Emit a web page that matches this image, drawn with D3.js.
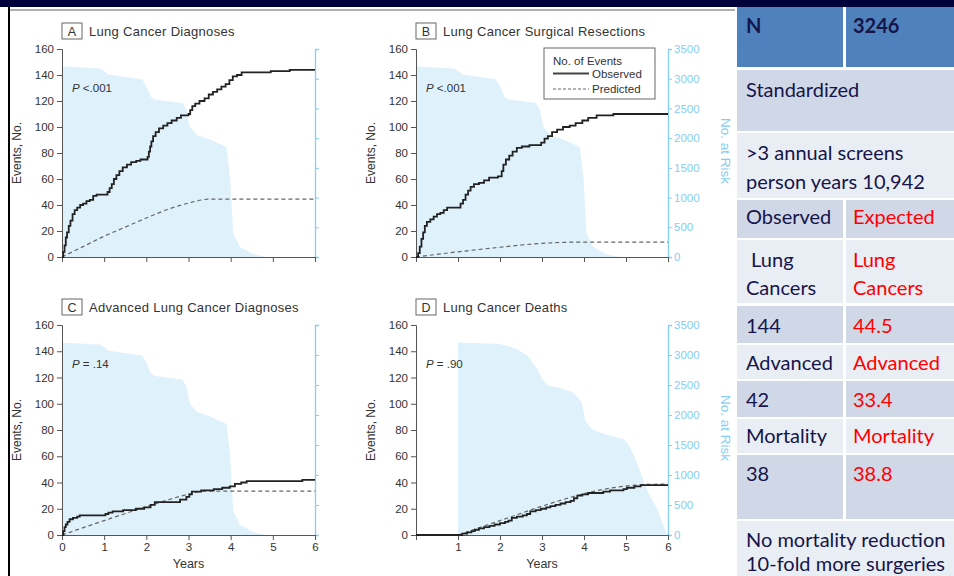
<!DOCTYPE html>
<html>
<head>
<meta charset="utf-8">
<script src="https://cdn.jsdelivr.net/npm/d3@7"></script>
<style>
  body { margin: 0; background: #fff; }
  svg { display: block; }
</style>
</head>
<body>
<svg id="chart" width="954" height="576"></svg>
<script>
// ---- data ----
var yearTicks = [0, 1, 2, 3, 4, 5, 6];
var eventTicks = [0, 20, 40, 60, 80, 100, 120, 140, 160];
var riskTicks = [0, 500, 1000, 1500, 2000, 2500, 3000, 3500];

// number at risk, [year, count]
var riskAll = [[0,3210],[0.9,3170],[1.0,3130],[1.1,3070],[1.9,2990],[2.0,2870],[2.1,2700],[2.2,2650],
  [2.85,2590],[2.95,2480],[3.03,2190],[3.2,2050],[3.5,1980],[3.9,1850],[3.99,1300],[4.06,400],
  [4.22,170],[4.54,45],[4.85,0]];
var riskD = [[1,0],[1,3210],[2.0,3185],[2.4,3100],[2.65,2990],[2.89,2765],[3.0,2600],[3.15,2490],
  [3.4,2455],[3.75,2375],[3.95,2210],[4.03,1900],[4.2,1760],[4.5,1680],[4.95,1590],[5.06,1500],
  [5.2,1310],[5.5,750],[5.75,420],[5.93,85],[6,0]];

// cumulative events, [year, events]
var observedA = [[0,0],[0.03,4],[0.06,9],[0.09,15],[0.12,19],[0.16,24],[0.2,28],[0.25,33],[0.3,36],
  [0.36,38],[0.43,40],[0.5,41],[0.58,43],[0.66,44],[0.74,47],[0.82,48],[1.04,48],[1.08,50],[1.13,53],
  [1.18,56],[1.23,60],[1.29,63],[1.36,66],[1.44,69],[1.54,71],[1.64,73],[1.76,74],[1.86,75],[2.03,77],
  [2.06,81],[2.09,85],[2.12,89],[2.16,93],[2.22,96],[2.3,99],[2.4,101],[2.5,103],[2.6,105],[2.72,107],
  [2.82,109],[3.0,110],[3.04,113],[3.09,116],[3.16,118],[3.26,120],[3.38,122],[3.48,125],[3.58,127],
  [3.68,129],[3.78,131],[3.88,133],[3.97,136],[4.05,139],[4.15,140],[4.26,142],[4.95,143],[5.4,144],[6,144]];
var observedB = [[0,0],[0.05,3],[0.09,8],[0.13,14],[0.17,19],[0.21,24],[0.26,27],[0.34,29],[0.42,31],
  [0.5,33],[0.58,34],[0.66,36],[0.74,38],[1.0,38],[1.06,41],[1.12,44],[1.18,48],[1.24,51],[1.3,54],
  [1.38,56],[1.5,57],[1.62,59],[1.74,61],[1.95,62],[2.04,66],[2.08,71],[2.14,75],[2.22,78],[2.3,81],
  [2.4,84],[2.52,85],[2.7,86],[2.98,88],[3.06,91],[3.14,93],[3.24,96],[3.36,98],[3.5,100],[3.66,101],
  [3.8,103],[3.96,105],[4.1,107],[4.3,109],[4.7,110],[6,110]];
var observedC = [[0,0],[0.03,3],[0.06,6],[0.09,8],[0.13,10],[0.18,12],[0.26,13],[0.36,14],[0.42,15],
  [0.9,15],[1.03,16],[1.1,17],[1.2,18],[1.45,19],[1.75,20],[1.95,21],[2.1,23],[2.2,25],[2.8,27],
  [2.95,29],[3.02,31],[3.08,33],[3.3,34],[3.6,35],[3.8,36],[3.98,37],[4.1,39],[4.25,40],[4.38,41],
  [5.62,41],[5.7,42],[6,42]];
var observedD = [[0,0],[1.0,0],[1.1,1],[1.22,2],[1.32,3],[1.4,4],[1.5,5],[1.62,6],[1.75,7],[1.87,8],
  [2.0,9],[2.12,10],[2.2,11],[2.28,13],[2.4,14],[2.54,15],[2.64,16],[2.72,18],[2.85,19],[2.97,20],
  [3.1,21],[3.2,22],[3.32,23],[3.44,24],[3.56,25],[3.68,26],[3.76,28],[3.84,30],[3.96,31],[4.1,32],
  [4.46,33],[4.62,34],[4.94,35],[5.02,36],[5.2,37],[5.35,38],[6,38]];

var predictedA = [[0,0],[0.5,8],[1,16],[1.5,23],[2,30],[2.5,36.5],[3,41.5],[3.5,44.5],[6,44.5]];
var predictedB = [[0,0],[1,4],[2,7.5],[3,10.5],[4,11.5],[6,11.5]];
var predictedC = [[0,0],[1,11],[2,21.5],[3,31],[3.4,33.4],[6,33.4]];
var predictedD = [[1,0],[1.5,5.5],[2,11],[2.5,16.5],[3,22],[3.5,27],[4,31.5],[4.5,35],[5,37.3],[5.5,38.5],[6,38.8]];

var panelLetters = ["A", "B", "C", "D"];
var panelTitles = ["Lung Cancer Diagnoses", "Lung Cancer Surgical Resections",
  "Advanced Lung Cancer Diagnoses", "Lung Cancer Deaths"];
var pValues = [" <.001", " <.001", " = .14", " = .90"];

// table text
var cohortSize = "3246";
var tableNotes = ["Standardized", ">3 annual screens", "person years 10,942"];
var outcomeNames = [["Lung", "Cancers"], ["Advanced"], ["Mortality"]];
var observedTotals = ["144", "42", "38"];
var expectedTotals = ["44.5", "33.4", "38.8"];
var conclusion = ["No mortality reduction", "10-fold more surgeries"];

// ---- drawing ----
var svg = d3.select("#chart");
var chartFont = "'Liberation Sans', Arial, sans-serif";
var ink = "#333";
var riskBlue = "#86cdf3";

var panels = [
  {risk: riskAll, obs: observedA, pred: predictedA, left: 62, right: 315, top: 49, bottom: 257, xLab: false, rLab: false},
  {risk: riskAll, obs: observedB, pred: predictedB, left: 416, right: 668, top: 49, bottom: 257, xLab: false, rLab: true},
  {risk: riskAll, obs: observedC, pred: predictedC, left: 62, right: 315, top: 325, bottom: 535, xLab: true, rLab: false},
  {risk: riskD, obs: observedD, pred: predictedD, left: 416, right: 668, top: 325, bottom: 535, xLab: true, rLab: true, skipZero: true}
];

panels.forEach(function(p, i) {
  var x = d3.scaleLinear().domain([0, 6]).range([p.left, p.right]);
  var y = d3.scaleLinear().domain([0, 160]).range([p.bottom, p.top]);
  var yr = d3.scaleLinear().domain([0, 3500]).range([p.bottom, p.top]);
  var g = svg.append("g");

  g.append("path").datum(p.risk)
    .attr("fill", "#dff1fb")
    .attr("d", d3.area().x(d => x(d[0])).y0(yr(0)).y1(d => yr(d[1])));

  // axes
  var ax = g.append("g").attr("transform", `translate(${p.left},0)`)
    .call(d3.axisLeft(y).tickValues(eventTicks).tickSize(5).tickPadding(3));
  var ar = g.append("g").attr("transform", `translate(${p.right},0)`)
    .call(d3.axisRight(yr).tickValues(riskTicks).tickSize(4).tickPadding(2)
      .tickFormat(p.rLab ? d3.format("d") : ""));
  var ab = g.append("g").attr("transform", `translate(0,${p.bottom})`)
    .call(d3.axisBottom(x).tickValues(yearTicks).tickSize(5).tickSizeOuter(0).tickPadding(3)
      .tickFormat(d => p.xLab && !(p.skipZero && d === 0) ? d : ""));

  [ax, ab].forEach(function(a) {
    a.select(".domain").attr("stroke", "#555");
    a.selectAll(".tick line").attr("stroke", "#555");
    a.selectAll("text").attr("fill", ink).style("font-family", chartFont).style("font-size", "11.5px");
  });
  ar.select(".domain").attr("stroke", riskBlue).attr("stroke-width", 1.3);
  ar.selectAll(".tick line").attr("stroke", riskBlue);
  ar.selectAll("text").attr("fill", riskBlue).style("font-family", chartFont).style("font-size", "11.5px");

  // lines
  g.append("path").datum(p.pred)
    .attr("fill", "none").attr("stroke", "#666").attr("stroke-width", 1.2).attr("stroke-dasharray", "4,3")
    .attr("d", d3.line().x(d => x(d[0])).y(d => y(d[1])).curve(d3.curveMonotoneX));
  g.append("path").datum(p.obs)
    .attr("fill", "none").attr("stroke", "#222").attr("stroke-width", 1.8)
    .attr("d", d3.line().x(d => x(d[0])).y(d => y(d[1])).curve(d3.curveStepAfter));

  // title with boxed letter
  var bx = p.left, by = p.top - 26;
  g.append("rect").attr("x", bx).attr("y", by).attr("width", 20).attr("height", 16)
    .attr("fill", "#fff").attr("stroke", "#666");
  g.append("text").attr("x", bx + 10).attr("y", by + 12.5).attr("text-anchor", "middle")
    .attr("fill", ink).style("font-family", chartFont).style("font-size", "12.5px").text(panelLetters[i]);
  g.append("text").attr("x", bx + 27).attr("y", by + 13)
    .attr("fill", ink).style("font-family", chartFont).style("font-size", "13px").style("letter-spacing", "0.3px")
    .text(panelTitles[i]);

  // P value
  var pt = g.append("text").attr("x", p.left + 10).attr("y", p.top + 43)
    .attr("fill", ink).style("font-family", chartFont).style("font-size", "11.5px");
  pt.append("tspan").style("font-style", "italic").text("P");
  pt.append("tspan").text(pValues[i]);

  // axis titles
  var midY = (p.top + p.bottom) / 2;
  g.append("text").attr("transform", `translate(${p.left - 41},${midY}) rotate(-90)`)
    .attr("text-anchor", "middle").attr("fill", ink)
    .style("font-family", chartFont).style("font-size", "12px").text("Events, No.");
  if (p.rLab) {
    g.append("text").attr("transform", `translate(${p.right + 53},${midY - 2}) rotate(90)`)
      .attr("text-anchor", "middle").attr("fill", riskBlue)
      .style("font-family", chartFont).style("font-size", "13.5px").text("No. at Risk");
  }
  if (p.xLab) {
    g.append("text").attr("x", (p.left + p.right) / 2).attr("y", p.bottom + 33)
      .attr("text-anchor", "middle").attr("fill", ink)
      .style("font-family", chartFont).style("font-size", "12.5px").text("Years");
  }

  // legend in panel B
  if (i === 1) {
    var lg = g.append("g");
    lg.append("rect").attr("x", 544).attr("y", 48).attr("width", 111).attr("height", 51)
      .attr("fill", "#fff").attr("stroke", "#666");
    lg.append("text").attr("x", 553).attr("y", 65).attr("fill", ink)
      .style("font-family", chartFont).style("font-size", "11.5px").text("No. of Events");
    lg.append("line").attr("x1", 553).attr("x2", 589).attr("y1", 73.5).attr("y2", 73.5)
      .attr("stroke", "#444").attr("stroke-width", 1.8);
    lg.append("text").attr("x", 592).attr("y", 78).attr("fill", ink)
      .style("font-family", chartFont).style("font-size", "11.5px").text("Observed");
    lg.append("line").attr("x1", 553).attr("x2", 589).attr("y1", 89).attr("y2", 89)
      .attr("stroke", "#666").attr("stroke-width", 1.2).attr("stroke-dasharray", "3,2");
    lg.append("text").attr("x", 592).attr("y", 93).attr("fill", ink)
      .style("font-family", chartFont).style("font-size", "11.5px").text("Predicted");
  }
});

// slide frame, drawn last so it sits on top like in the slide
svg.append("rect").attr("x", 0).attr("y", 0).attr("width", 954).attr("height", 7).attr("fill", "#00003a");
svg.append("rect").attr("x", 10).attr("y", 9).attr("width", 725).attr("height", 2).attr("fill", "#b0b0b0");
svg.append("rect").attr("x", 8).attr("y", 7).attr("width", 2).attr("height", 569).attr("fill", "#000");

// ---- summary table ----
var tx = 737, tw = 954 - 737, split = 843;
var navy = "#15154a", red = "#ff0000";
var rows = [
  {top: 7, bottom: 67, fill: "#4f81bd", left: [{t: "N", y: 33}], right: [{t: cohortSize, y: 33}], bold: true},
  {top: 70, bottom: 131, fill: "#d0d8e8", span: [{t: tableNotes[0], y: 97}]},
  {top: 133, bottom: 198, fill: "#e9edf4", span: [{t: tableNotes[1], y: 160}, {t: tableNotes[2], y: 189}]},
  {top: 200, bottom: 238, fill: "#d0d8e8", left: [{t: "Observed", y: 224}], right: [{t: "Expected", y: 224}]},
  {top: 240, bottom: 303, fill: "#e9edf4",
    left: outcomeNames[0].map((t, k) => ({t: (k === 0 ? "\u00a0" : "") + t, y: 267 + 28 * k})),
    right: outcomeNames[0].map((t, k) => ({t: t, y: 267 + 28 * k}))},
  {top: 306, bottom: 343, fill: "#d0d8e8", left: [{t: observedTotals[0], y: 333}], right: [{t: expectedTotals[0], y: 333}]},
  {top: 345, bottom: 379, fill: "#e9edf4", left: [{t: outcomeNames[1][0], y: 370}], right: [{t: outcomeNames[1][0], y: 370}]},
  {top: 381, bottom: 417, fill: "#d0d8e8", left: [{t: observedTotals[1], y: 407}], right: [{t: expectedTotals[1], y: 407}]},
  {top: 419, bottom: 453, fill: "#e9edf4", left: [{t: outcomeNames[2][0], y: 443}], right: [{t: outcomeNames[2][0], y: 443}]},
  {top: 455, bottom: 519, fill: "#d0d8e8", left: [{t: observedTotals[2], y: 481}], right: [{t: expectedTotals[2], y: 481}]},
  {top: 521, bottom: 576, fill: "#e9edf4", span: [{t: conclusion[0], y: 547}, {t: conclusion[1], y: 571}]}
];

var tg = svg.append("g").style("font-family", "Lato, 'Open Sans', sans-serif").style("font-size", "20px");
rows.forEach(function(r) {
  if (r.span) {
    tg.append("rect").attr("x", tx).attr("y", r.top).attr("width", tw).attr("height", r.bottom - r.top).attr("fill", r.fill);
    r.span.forEach(s => tg.append("text").attr("x", 746).attr("y", s.y).attr("fill", navy).text(s.t));
  } else {
    tg.append("rect").attr("x", tx).attr("y", r.top).attr("width", split - tx).attr("height", r.bottom - r.top).attr("fill", r.fill);
    tg.append("rect").attr("x", split + 3).attr("y", r.top).attr("width", 954 - split - 3).attr("height", r.bottom - r.top).attr("fill", r.fill);
    r.left.forEach(s => tg.append("text").attr("x", 746).attr("y", s.y).attr("fill", navy)
      .style("font-weight", r.bold ? "bold" : null).text(s.t));
    r.right.forEach(s => tg.append("text").attr("x", 853).attr("y", s.y).attr("fill", r.bold ? navy : red)
      .style("font-weight", r.bold ? "bold" : null).text(s.t));
  }
});
</script>
</body>
</html>
